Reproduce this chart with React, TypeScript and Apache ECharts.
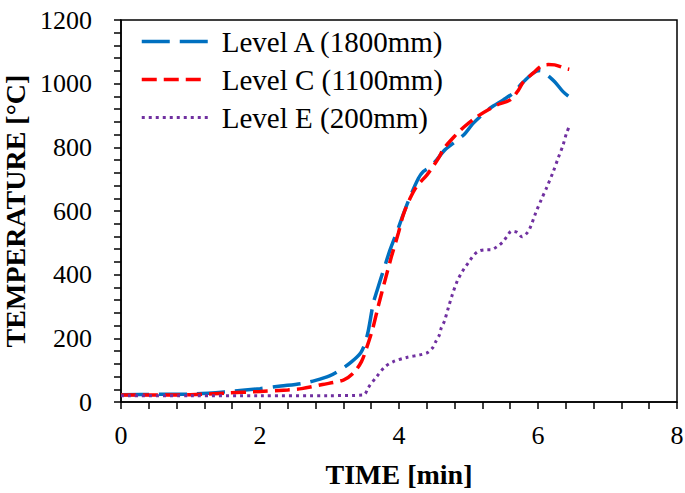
import React, { useEffect, useRef } from "react";
import * as echarts from "echarts";

const FONT = "'Liberation Serif', 'Times New Roman', serif";

const seriesNames = ["Level A (1800mm)", "Level C (1100mm)", "Level E (200mm)"];
const seriesColors = ["#0070C0", "#FF0000", "#7030A0"];
const seriesDash = [[28, 10], [15, 7], [3, 4]];
const seriesWidth = [3.5, 3.5, 3];

const timeA = [0, 0.5, 1.0, 1.5, 2.0, 2.3, 2.6, 2.8, 3.0, 3.15, 3.32, 3.45, 3.51, 3.56, 3.63, 3.68, 3.8, 3.87, 3.99, 4.04, 4.16, 4.28, 4.35, 4.45, 4.52, 4.66, 4.93, 5.07, 5.31, 5.5, 5.64, 5.77, 5.93, 6.03, 6.1, 6.24, 6.36, 6.48];
const tempA = [23, 24, 25, 32, 42, 50, 58, 68, 82, 100, 127, 155, 184, 226, 310, 347, 430, 477, 546, 577, 645, 703, 724, 739, 755, 792, 839, 876, 923, 949, 970, 1001, 1033, 1041, 1033, 1006, 975, 954];

const timeC = [0, 0.5, 1.0, 1.5, 2.0, 2.4, 2.6, 2.9, 3.2, 3.34, 3.46, 3.54, 3.63, 3.7, 3.8, 3.89, 3.99, 4.06, 4.16, 4.25, 4.4, 4.49, 4.58, 4.64, 4.8, 4.93, 5.12, 5.41, 5.6, 5.72, 5.79, 5.93, 6.05, 6.15, 6.24, 6.39, 6.45];
const tempC = [22, 22, 23, 28, 33, 38, 42, 55, 69, 90, 127, 174, 237, 300, 383, 456, 530, 587, 640, 676, 713, 740, 770, 795, 835, 863, 896, 933, 949, 980, 1006, 1033, 1056, 1060, 1059, 1048, 1045];

const timeE = [0, 1, 2, 3, 3.49, 3.56, 3.68, 3.8, 3.92, 4.11, 4.3, 4.41, 4.48, 4.53, 4.58, 4.61, 4.65, 4.71, 4.77, 4.84, 4.89, 4.94, 5.0, 5.06, 5.13, 5.23, 5.32, 5.41, 5.49, 5.55, 5.62, 5.7, 5.77, 5.85, 5.9, 5.97, 6.05, 6.13, 6.22, 6.29, 6.36, 6.41, 6.46];
const tempE = [20, 20, 20, 20, 22, 46, 80, 111, 127, 140, 148, 155, 169, 190, 210, 234, 252, 296, 339, 381, 402, 420, 438, 457, 472, 478, 478, 488, 502, 519, 537, 533, 519, 533, 554, 596, 637, 676, 724, 766, 807, 844, 870];

const xTitle = "TIME [min]";
const yTitle = "TEMPERATURE [°C]";

const pairs = (t: number[], v: number[]) => t.map((x, i) => [x, v[i]]);

export default function App() {
  const ref = useRef<HTMLDivElement>(null);
  useEffect(() => {
    if (!ref.current) return;
    const chart = echarts.init(ref.current, undefined, { renderer: "svg" });
    const axisCommon = {
      axisLine: { show: true, onZero: false, lineStyle: { color: "#000", width: 1.5 } },
      axisTick: { show: true, inside: false, length: 7, lineStyle: { color: "#000", width: 1.5 } },
      minorTick: { show: true, splitNumber: 5, length: 7, lineStyle: { color: "#000", width: 1.5 } },
      splitLine: { show: false },
      minorSplitLine: { show: false },
    };
    const datasets = [pairs(timeA, tempA), pairs(timeC, tempC), pairs(timeE, tempE)];
    chart.setOption({
      animation: false,
      backgroundColor: "#fff",
      textStyle: { fontFamily: FONT },
      grid: {
        left: 121,
        right: 8,
        top: 20,
        bottom: 91,
        show: true,
        borderColor: "#000",
        borderWidth: 1.5,
        backgroundColor: "transparent",
        containLabel: false,
        outerBoundsMode: "none",
      },
      legend: {
        orient: "vertical",
        left: 135,
        top: 22,
        itemWidth: 66,
        itemHeight: 14,
        itemGap: 9,
        data: seriesNames.map((name, i) => ({
          name,
          itemStyle: { opacity: 0 },
          lineStyle: { color: seriesColors[i], width: seriesWidth[i], type: seriesDash[i], opacity: 1 },
        })),
        textStyle: { fontFamily: FONT, fontSize: 29, color: "#000", padding: [0, 0, 0, 9] },
      },
      xAxis: {
        type: "value",
        min: 0,
        max: 8,
        interval: 2,
        ...axisCommon,
        axisLabel: { color: "#000", fontFamily: FONT, fontSize: 26, margin: 20 },
        name: xTitle,
        nameLocation: "middle",
        nameGap: 58,
        nameTextStyle: { color: "#000", fontFamily: FONT, fontSize: 28, fontWeight: "bold" },
      },
      yAxis: {
        type: "value",
        min: 0,
        max: 1200,
        interval: 200,
        ...axisCommon,
        axisLabel: {
          color: "#000",
          fontFamily: FONT,
          fontSize: 26,
          margin: 29,
          formatter: (v: number) => String(v),
        },
        name: yTitle,
        nameLocation: "middle",
        nameGap: 93,
        nameTextStyle: { color: "#000", fontFamily: FONT, fontSize: 28, fontWeight: "bold", lineHeight: 24 },
      },
      series: seriesNames.map((name, i) => ({
        name,
        type: "line",
        data: datasets[i],
        showSymbol: false,
        symbol: "none",
        smooth: 0.3,
        lineStyle: { color: seriesColors[i], width: seriesWidth[i], type: seriesDash[i] },
        itemStyle: { color: seriesColors[i] },
      })),
    });
    return () => chart.dispose();
  }, []);
  return <div ref={ref} style={{ width: 685, height: 493, position: "absolute", left: 0, top: 0 }} />;
}
